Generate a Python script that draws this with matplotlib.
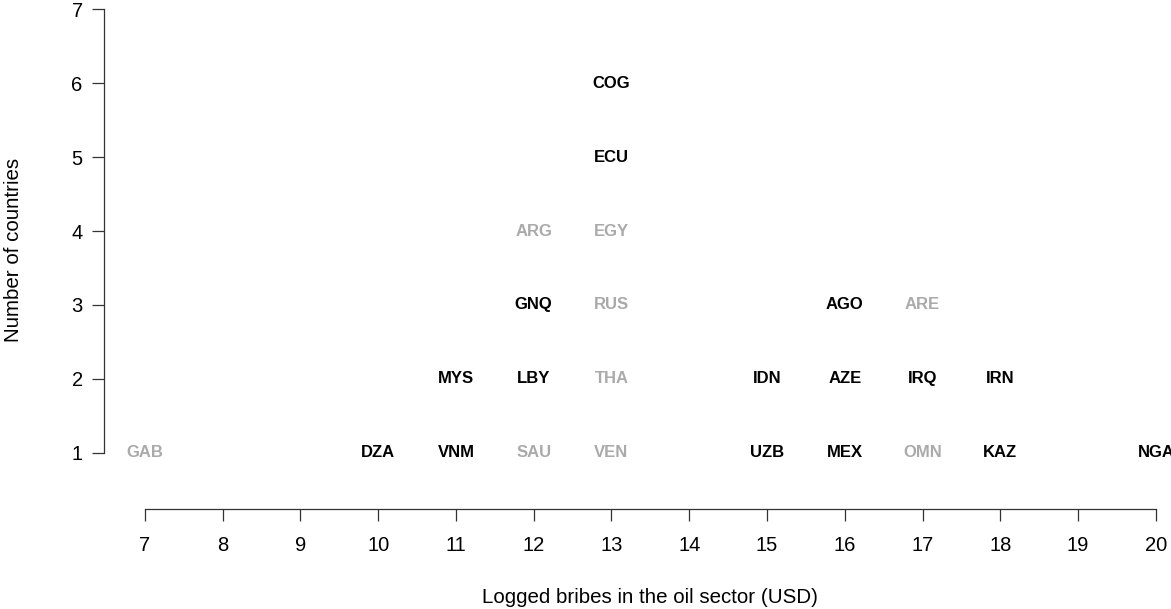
import matplotlib.pyplot as plt

plt.rcParams['font.family'] = ['Liberation Sans', 'DejaVu Sans']

# country codes, logged bribe value, stack position, highlighted or not
codes = ['GAB', 'DZA', 'VNM', 'MYS', 'SAU', 'LBY', 'GNQ', 'ARG',
         'VEN', 'THA', 'RUS', 'EGY', 'ECU', 'COG', 'UZB', 'IDN',
         'MEX', 'AZE', 'AGO', 'OMN', 'IRQ', 'ARE', 'KAZ', 'IRN', 'NGA']
bribes = [7, 10, 11, 11, 12, 12, 12, 12,
          13, 13, 13, 13, 13, 13, 15, 15,
          16, 16, 16, 17, 17, 17, 18, 18, 20]
count = [1, 1, 1, 2, 1, 2, 3, 4,
         1, 2, 3, 4, 5, 6, 1, 2,
         1, 2, 3, 1, 2, 3, 1, 2, 1]
dark = [0, 1, 1, 1, 0, 1, 1, 0,
        0, 0, 0, 0, 1, 1, 1, 1,
        1, 1, 1, 0, 1, 0, 1, 1, 1]

xticks = list(range(7, 21))
yticks = list(range(1, 8))

fig = plt.figure(figsize=(11.71, 6.09), dpi=100)
ax = fig.add_axes([0.0891, 0.1642, 0.9326, 0.8522])

for c, x, y, d in zip(codes, bribes, count, dark):
    ax.text(x, y, c, ha='center', va='center', fontsize=12, fontweight='bold',
            color='black' if d else '#AAAAAA', clip_on=False)

ax.set_xlim(6.48, 20.52)
ax.set_ylim(0.24, 7.26)

for s in ['top', 'right']:
    ax.spines[s].set_visible(False)
ax.spines['bottom'].set_bounds(7, 20)
ax.spines['left'].set_bounds(1, 7)
for s in ['bottom', 'left']:
    ax.spines[s].set_linewidth(0.9)
    ax.spines[s].set_color('#333333')

ax.set_xticks(xticks)
ax.set_yticks(yticks)
ax.tick_params(axis='x', length=8.6, width=0.9, color='#333333', pad=11, labelsize=14.5)
ax.tick_params(axis='y', length=8.6, width=0.9, color='#333333', pad=7, labelsize=14.5)

ax.set_xlabel('Logged bribes in the oil sector (USD)', fontsize=14.8, va='baseline')
ax.xaxis.set_label_coords(0.5, -0.181)
ax.set_ylabel('Number of countries', fontsize=14.8, va='center')
ax.yaxis.set_label_coords(-0.0835, 0.5)

fig.savefig('out.png', dpi=100)
